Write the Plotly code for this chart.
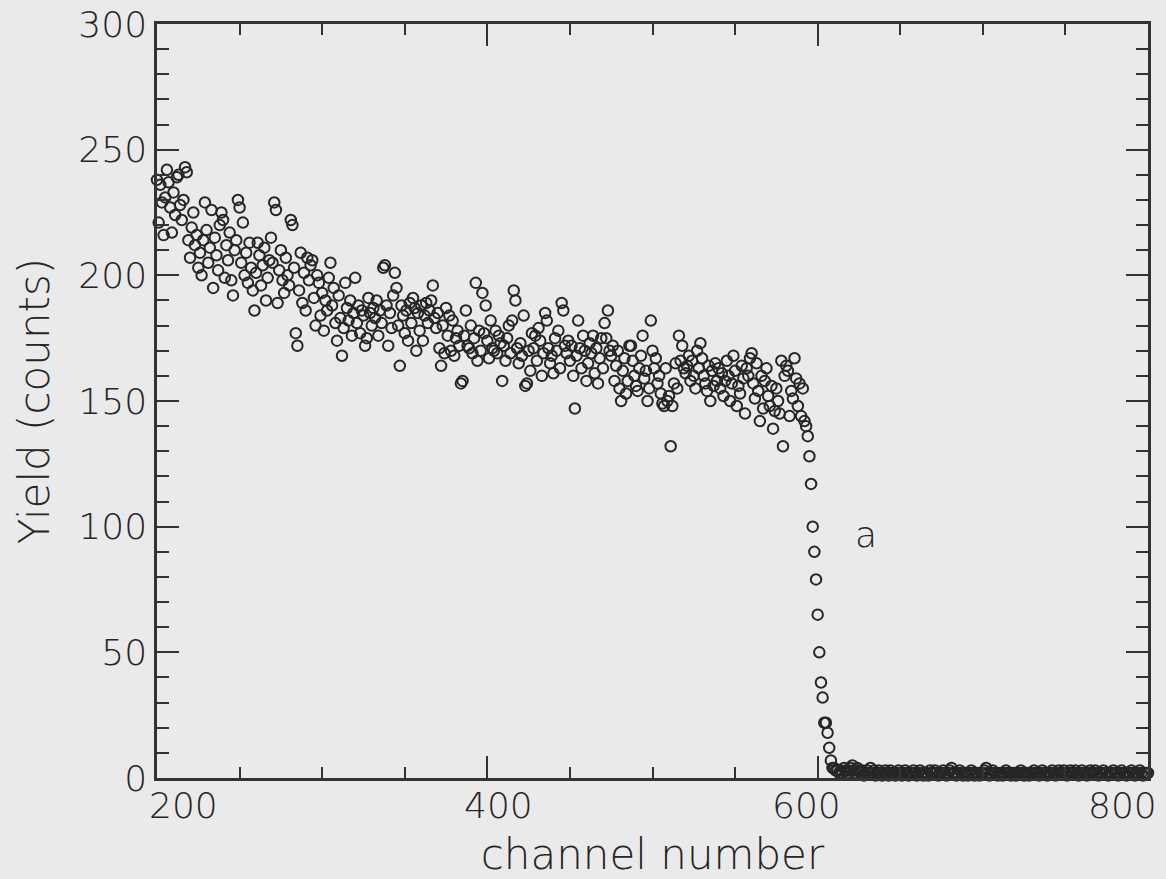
import plotly.graph_objects as go

# ---- data ----
start_channel = 200
yield_pre_edge = [
    238, 221, 236, 229, 216, 231, 242, 237, 227, 217,
    233, 224, 239, 240, 228, 222, 230, 243, 241, 214,
    207, 219, 225, 212, 216, 203, 209, 200, 214, 229,
    218, 205, 211, 226, 195, 215, 208, 202, 220, 225,
    222, 199, 212, 206, 217, 198, 192, 210, 214, 230,
    227, 205, 221, 200, 209, 197, 213, 203, 194, 186,
    201, 213, 208, 196, 204, 211, 190, 199, 206, 215,
    205, 229, 226, 189, 202, 210, 198, 193, 207, 200,
    196, 222, 220, 203, 177, 172, 194, 209, 189, 201,
    186, 207, 198, 204, 206, 191, 180, 200, 197, 184,
    193, 178, 190, 186, 199, 205, 188, 195, 181, 174,
    192, 183, 168, 179, 197, 187, 182, 190, 176, 185,
    199, 181, 188, 177, 186, 184, 172, 175, 191, 185,
    180, 187, 183, 190, 176, 186, 181, 203, 204, 188,
    172, 185, 179, 192, 201, 195, 180, 164, 188, 184,
    177, 186, 174, 189, 181, 191, 187, 170, 185, 178,
    188, 174, 184, 189, 181, 186, 190, 196, 183, 179,
    185, 171, 164, 180, 169, 187, 176, 184, 170, 182,
    168, 175, 178, 172, 157, 158, 176, 186, 172, 171,
    180, 169, 175, 197, 166, 178, 170, 193, 177, 188,
    174, 167, 182, 171, 170, 178, 169, 176, 173, 158,
    172, 166, 175, 180, 169, 182, 194, 190, 171, 165,
    173, 168, 184, 156, 157, 170, 162, 177, 171, 176,
    166, 179, 174, 160, 169, 185, 182, 171, 165, 168,
    161, 175, 170, 178, 163, 189, 186, 172, 169, 174,
    166, 172, 160, 147, 168, 182, 171, 163, 176, 170,
    158, 165, 173, 169, 176, 161, 171, 157, 167, 175,
    163, 181, 175, 186, 170, 168, 172, 158, 164, 170,
    155, 150, 162, 167, 153, 158, 172, 172, 166, 160,
    156, 154, 163, 168, 176, 159, 162, 150, 155, 182,
    170, 163, 167, 157, 160, 153, 149, 148, 163, 150,
    152, 132, 148, 157, 165, 155, 176, 166, 172, 163,
    161, 164, 168, 158, 166, 160, 155, 170, 163, 173,
    167, 160, 157, 154, 164, 150, 162, 156, 165, 158,
    163, 155, 161, 152, 158, 166, 160, 150, 157, 168,
    162, 148, 156, 153, 164, 159, 145, 163, 160, 167,
    169, 157, 151, 165, 154, 142, 160, 147, 158, 163,
    152, 148, 156, 139, 146, 155, 150, 145, 166, 132,
    160, 164, 162, 144, 154, 151, 167, 159, 148, 157,
    144, 155, 142, 140, 136,
]
yield_edge = [128, 117, 100, 90, 79, 65, 50, 38, 32, 22, 22, 18, 12, 7, 4]
yield_background = [
    4, 3, 3, 2, 3, 2, 4, 3, 2, 3,
    4, 5, 3, 2, 4, 3, 2, 3, 1, 2,
    3, 2, 4, 2, 3, 1, 2, 3, 2, 1,
    2, 3, 2, 1, 3, 2, 2, 1, 2, 3,
    2, 1, 2, 3, 2, 1, 2, 2, 3, 2,
    1, 2, 3, 2, 1, 2, 2, 1, 3, 2,
    2, 3, 2, 1, 2, 2, 3, 2, 1, 2,
    3, 4, 2, 2, 1, 2, 3, 2, 1, 2,
    2, 1, 2, 3, 2, 1, 2, 2, 1, 2,
    2, 3, 4, 2, 1, 2, 3, 2, 2, 1,
    2, 2, 1, 2, 3, 2, 2, 1, 2, 2,
    1, 2, 2, 3, 2, 1, 2, 2, 1, 2,
    2, 3, 2, 2, 1, 2, 3, 2, 2, 1,
    2, 2, 3, 2, 1, 2, 3, 2, 2, 3,
    2, 1, 2, 3, 2, 2, 3, 2, 1, 2,
    3, 2, 2, 1, 2, 3, 2, 2, 3, 2,
    1, 2, 2, 3, 2, 2, 1, 2, 2, 3,
    2, 2, 1, 2, 3, 2, 2, 1, 2, 2,
    3, 2, 1, 2, 2, 3, 2, 1, 2, 2,
    2,
]
x_tick_values = [200, 400, 600, 800]
x_tick_labels = ["200", "400", "600", "800"]
x_label_shift = [26, 11, -11, -26]
y_tick_values = [0, 50, 100, 150, 200, 250, 300]
x_title = "channel number"
y_title = "Yield (counts)"
panel_label = "a"

counts = yield_pre_edge + yield_edge + yield_background
channels = list(range(start_channel, start_channel + len(counts)))

FONT = "DejaVu Sans"
WEIGHT = 200
INK = "#262626"
TXT = "#262626"
BG = "#eaeaea"

fig = go.Figure()
fig.add_trace(go.Scatter(
    x=channels, y=counts, mode="markers",
    marker=dict(symbol="circle-open", size=10.5, color=INK, line=dict(width=2, color=INK)),
    showlegend=False, cliponaxis=False,
))

axis_common = dict(
    showline=True, linecolor="#333333", linewidth=2.5, mirror="ticks",
    ticks="inside", tickcolor="#333333", tickwidth=2, ticklen=22,
    showgrid=False, zeroline=False,
)

fig.update_xaxes(
    range=[200, 800], tickvals=x_tick_values, showticklabels=False,
    minor=dict(dtick=50, ticks="inside", ticklen=11, tickwidth=2, tickcolor="#333333"),
    title=dict(text=x_title, font=dict(family=FONT, size=42, color=TXT, weight=WEIGHT), standoff=62),
    automargin=False,
    **axis_common,
)
fig.update_yaxes(
    range=[0, 300], tickvals=y_tick_values,
    tickfont=dict(family=FONT, size=36, color=TXT, weight=WEIGHT),
    minor=dict(dtick=10, ticks="inside", ticklen=12, tickwidth=2, tickcolor="#333333"),
    title=dict(text=y_title, font=dict(family=FONT, size=42, color=TXT, weight=WEIGHT), standoff=16),
    automargin=False,
    **axis_common,
)

for v, lab, sh in zip(x_tick_values, x_tick_labels, x_label_shift):
    fig.add_annotation(
        x=v, y=0, xref="x", yref="y", text=lab, showarrow=False,
        xshift=sh, yshift=-27, font=dict(family=FONT, size=36, color=TXT, weight=WEIGHT),
    )

fig.add_annotation(
    x=629, y=97, xref="x", yref="y", text=panel_label, showarrow=False,
    font=dict(family=FONT, size=36, color=TXT, weight=WEIGHT),
)

fig.update_layout(
    width=1166, height=879,
    margin=dict(l=157, r=18, t=24, b=101),
    paper_bgcolor=BG, plot_bgcolor=BG,
    template=None,
)

fig.write_html("out.html")
